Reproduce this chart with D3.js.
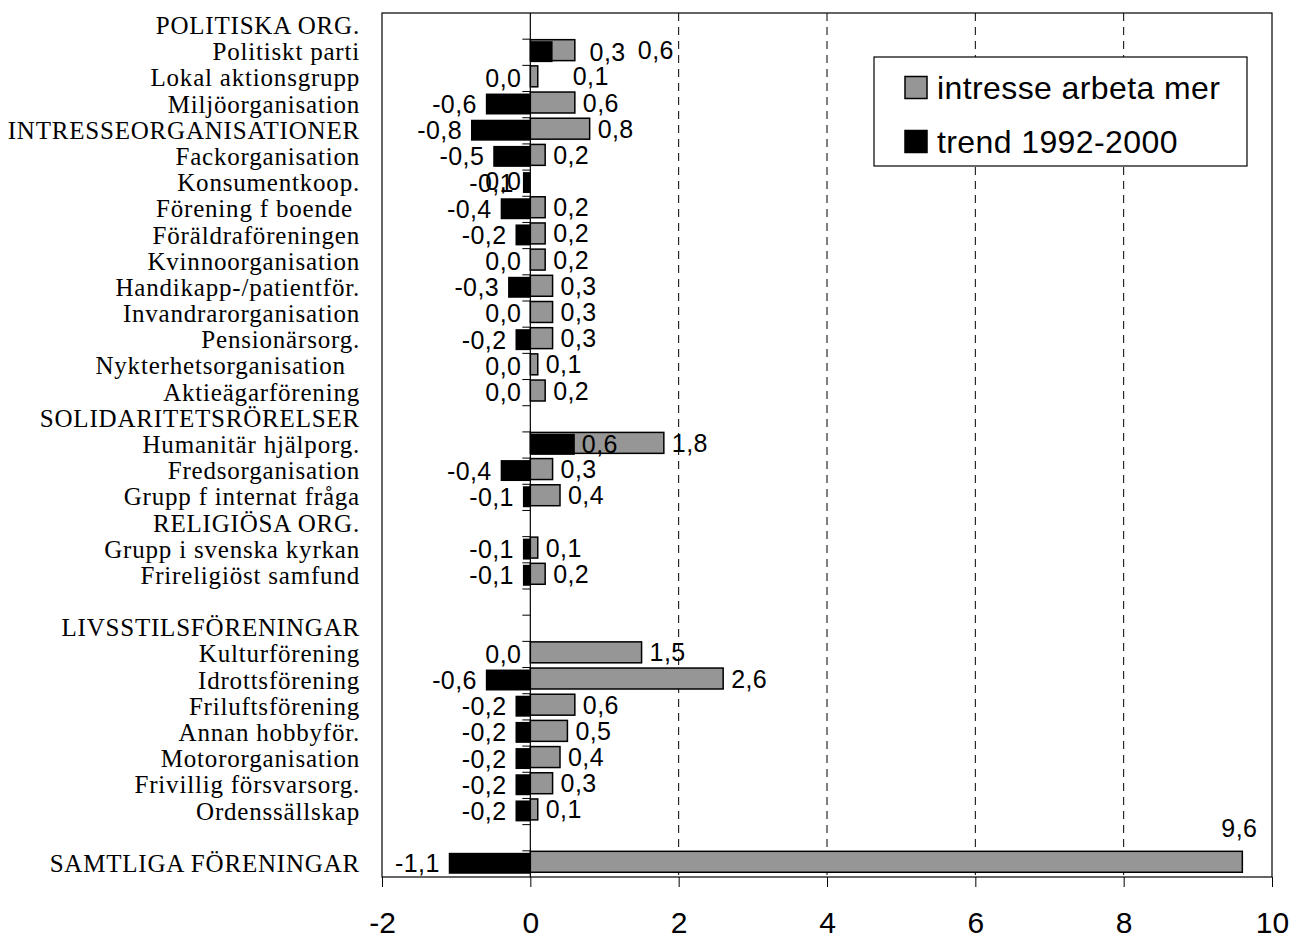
<!DOCTYPE html>
<html>
<head>
<meta charset="utf-8">
<script src="https://cdn.jsdelivr.net/npm/d3@7"></script>
<style>
  body { margin: 0; background: #fff; }
  svg { display: block; }
  .cat { font-family: "Liberation Serif", "Times New Roman", serif; font-size: 25px; letter-spacing: 0.8px; }
  .val { font-family: "Liberation Sans", Arial, sans-serif; font-size: 25px; letter-spacing: 0.4px; }
  .tick text { font-family: "Liberation Sans", Arial, sans-serif; font-size: 30px; }
  .legend text { font-family: "Liberation Sans", Arial, sans-serif; font-size: 32px; letter-spacing: 0.4px; }
</style>
</head>
<body>
<svg width="1293" height="938"></svg>
<script>
// categories, top to bottom ("" = empty row)
var categories = [
  "POLITISKA ORG.", "Politiskt parti", "Lokal aktionsgrupp", "Miljöorganisation",
  "INTRESSEORGANISATIONER", "Fackorganisation", "Konsumentkoop.", "Förening f boende ",
  "Föräldraföreningen", "Kvinnoorganisation", "Handikapp-/patientför.", "Invandrarorganisation",
  "Pensionärsorg.", "Nykterhetsorganisation  ", "Aktieägarförening",
  "SOLIDARITETSRÖRELSER", "Humanitär hjälporg.", "Fredsorganisation", "Grupp f internat fråga",
  "RELIGIÖSA ORG.", "Grupp i svenska kyrkan", "Frireligiöst samfund",
  "",
  "LIVSSTILSFÖRENINGAR", "Kulturförening", "Idrottsförening", "Friluftsförening",
  "Annan hobbyför.", "Motororganisation", "Frivillig försvarsorg.", "Ordenssällskap",
  "",
  "SAMTLIGA FÖRENINGAR"
];

// intresse arbeta mer (gray)
var intresse = [
  null, 0.6, 0.1, 0.6,
  0.8, 0.2, 0.0, 0.2,
  0.2, 0.2, 0.3, 0.3,
  0.3, 0.1, 0.2,
  null, 1.8, 0.3, 0.4,
  null, 0.1, 0.2,
  null,
  null, 1.5, 2.6, 0.6,
  0.5, 0.4, 0.3, 0.1,
  null,
  9.6
];

// trend 1992-2000 (black)
var trend = [
  null, 0.3, 0.0, -0.6,
  -0.8, -0.5, -0.1, -0.4,
  -0.2, 0.0, -0.3, 0.0,
  -0.2, 0.0, 0.0,
  null, 0.6, -0.4, -0.1,
  null, -0.1, -0.1,
  null,
  null, 0.0, -0.6, -0.2,
  -0.2, -0.2, -0.2, -0.2,
  null,
  -1.1
];

var seriesNames = ["intresse arbeta mer", "trend 1992-2000"];
var seriesColors = ["#969696", "#000000"];
var xTicks = [-2, 0, 2, 4, 6, 8, 10];
var xDomain = [-2, 10];

// layout
var svg = d3.select("svg"),
    margin = {top: 13, right: 21, bottom: 61, left: 382},
    W = +svg.attr("width"), H = +svg.attr("height"),
    x0 = margin.left, x1 = W - margin.right,
    y0 = margin.top, y1 = H - margin.bottom;

var x = d3.scaleLinear().domain(xDomain).range([x0, x1]);
var y = d3.scaleBand().domain(d3.range(categories.length)).range([y0, y1]);
var bh = y.bandwidth() * 0.8;

// decimal comma, plain hyphen for minus
var fmt = function(v) { return d3.format(".1f")(v).replace(".", ",").replace("\u2212", "-"); };

// hand-moved labels in the original
var labelNudge = {
  "Politiskt parti": {g: 55, b: 30},
  "Lokal aktionsgrupp": {g: 27, b: 0}
};

// dashed gridlines
svg.append("g").selectAll("line")
  .data(xTicks.filter(function(d) { return d > 0 && d < xDomain[1]; }))
  .enter().append("line")
  .attr("x1", function(d) { return x(d); }).attr("x2", function(d) { return x(d); })
  .attr("y1", y0).attr("y2", y1)
  .attr("stroke", "#000").attr("stroke-width", 1)
  .attr("stroke-dasharray", "8,6");

// x axis
var xAxis = svg.append("g")
  .attr("transform", "translate(0," + y1 + ")")
  .call(d3.axisBottom(x).tickValues(xTicks).tickSize(10).tickPadding(25)
        .tickFormat(function(d) { return d; }));
xAxis.select(".domain").remove();
xAxis.selectAll(".tick line").attr("stroke", "#000");
xAxis.selectAll(".tick text").attr("fill", "#000");

// plot frame
svg.append("rect")
  .attr("x", x0).attr("y", y0).attr("width", x1 - x0).attr("height", y1 - y0)
  .attr("fill", "none").attr("stroke", "#000").attr("stroke-width", 1.2);

// category labels
svg.append("g").selectAll("text")
  .data(categories)
  .enter().append("text")
  .attr("class", "cat")
  .attr("x", 360)
  .attr("y", function(d, i) { return y(i) + y.bandwidth() / 2; })
  .attr("dy", "0.32em")
  .attr("text-anchor", "end")
  .style("white-space", "pre")
  .text(function(d) { return d; });

var rows = categories.map(function(c, i) {
  return {cat: c, i: i, g: intresse[i], b: trend[i]};
}).filter(function(d) { return d.g !== null; });

// gray bars
svg.append("g").selectAll("rect")
  .data(rows).enter().append("rect")
  .attr("x", function(d) { return x(Math.min(0, d.g)); })
  .attr("y", function(d) { return y(d.i) + 0.5; })
  .attr("width", function(d) { return Math.abs(x(d.g) - x(0)); })
  .attr("height", bh)
  .attr("fill", seriesColors[0]).attr("stroke", "#000").attr("stroke-width", 1.5);

// black bars
svg.append("g").selectAll("rect")
  .data(rows).enter().append("rect")
  .attr("x", function(d) { return x(Math.min(0, d.b)); })
  .attr("y", function(d) { return y(d.i) + 2; })
  .attr("width", function(d) { return Math.abs(x(d.b) - x(0)); })
  .attr("height", bh)
  .attr("fill", seriesColors[1]);

// zero axis with ticks between categories
svg.append("line")
  .attr("x1", x(0)).attr("x2", x(0)).attr("y1", y0).attr("y2", y1)
  .attr("stroke", "#000").attr("stroke-width", 1.2);
svg.append("g").selectAll("line")
  .data(d3.range(1, categories.length))
  .enter().append("line")
  .attr("x1", x(0) - 8).attr("x2", x(0))
  .attr("y1", function(i) { return y(i); }).attr("y2", function(i) { return y(i); })
  .attr("stroke", "#000");

// value labels
var lab = svg.append("g");
rows.forEach(function(d) {
  var n = labelNudge[d.cat] || {g: 0, b: 0};
  // black series
  var bx = d.b > 0 ? x(d.b) + 7 + n.b : x(Math.min(0, d.b)) - 9;
  lab.append("text").attr("class", "val")
    .attr("x", bx).attr("y", y(d.i) + 2 + bh / 2).attr("dy", "0.36em")
    .attr("text-anchor", d.b > 0 ? "start" : "end")
    .text(fmt(d.b));
  // gray series
  var gx = d.g > 0 ? x(d.g) + 8 + n.g : x(0) - 9;
  var t = lab.append("text").attr("class", "val")
    .attr("x", gx).attr("y", y(d.i) + 0.5 + bh / 2).attr("dy", "0.36em")
    .attr("text-anchor", d.g > 0 ? "start" : "end")
    .text(fmt(d.g));
  if (d.g > 0 && gx + t.node().getComputedTextLength() > x1) {
    t.attr("x", x(d.g) - 3).attr("y", y(d.i) - 14).attr("dy", 0)
      .attr("text-anchor", "middle");
  }
});

// legend
var lg = svg.append("g").attr("class", "legend");
lg.append("rect")
  .attr("x", 874).attr("y", 57).attr("width", 373).attr("height", 109)
  .attr("fill", "#fff").attr("stroke", "#000").attr("stroke-width", 1.2);
var item = lg.selectAll("g.item")
  .data(seriesNames).enter().append("g")
  .attr("class", "item")
  .attr("transform", function(d, i) { return "translate(905," + (87.5 + i * 54) + ")"; });
item.append("rect")
  .attr("x", 0).attr("y", -11).attr("width", 22).attr("height", 22)
  .attr("fill", function(d, i) { return seriesColors[i]; })
  .attr("stroke", "#000").attr("stroke-width", 1.5);
item.append("text")
  .attr("x", 32).attr("dy", "0.36em")
  .text(function(d) { return d; });
</script>
</body>
</html>
